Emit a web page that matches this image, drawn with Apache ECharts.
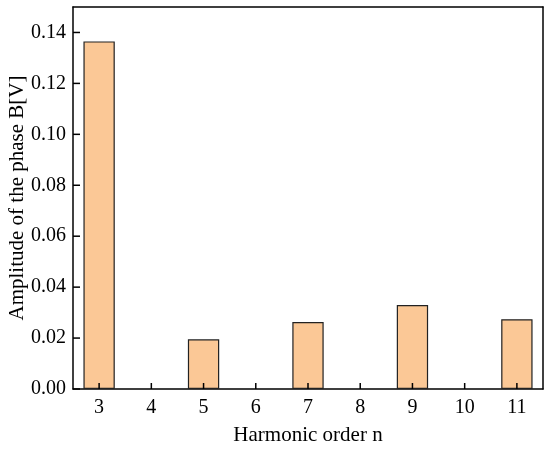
<!DOCTYPE html>
<html>
<head>
<meta charset="utf-8">
<script src="https://cdn.jsdelivr.net/npm/echarts@6/dist/echarts.min.js"></script>
<style>
  html, body { margin: 0; padding: 0; background: #fff; }
  #main { width: 550px; height: 453px; }
</style>
</head>
<body>
<div id="main"></div>
<script>
// harmonic orders and amplitudes of phase B
const orders = ['3', '4', '5', '6', '7', '8', '9', '10', '11'];
const amplitudes = [0.1365, 0, 0.0195, 0, 0.0263, 0, 0.0330, 0, 0.0274];
const yTicks = [0, 0.02, 0.04, 0.06, 0.08, 0.10, 0.12, 0.14];

const font = 'Liberation Serif';
const lineStyle = { color: '#000', width: 1.5 };

let options = {
    animation: false,
    grid: {
        left: 73, right: 7, top: 7, bottom: 64,
        outerBoundsMode: 'none',
        containLabel: false
    },
    xAxis: [{
        type: 'category',
        data: orders,
        name: 'Harmonic order n',
        nameLocation: 'middle',
        nameGap: 36,
        nameTextStyle: { fontFamily: font, fontSize: 21, color: '#000' },
        axisLine: { lineStyle: lineStyle },
        axisTick: { show: false },
        axisLabel: { fontFamily: font, fontSize: 20, color: '#000', margin: 9 },
        splitLine: { show: false }
    }, {
        // top frame edge
        type: 'category',
        data: orders,
        position: 'top',
        axisLine: { show: true, onZero: false, lineStyle: lineStyle },
        axisTick: { show: false },
        axisLabel: { show: false },
        splitLine: { show: false }
    }],
    yAxis: [{
        type: 'value',
        min: 0,
        max: 0.15,
        interval: 0.02,
        name: 'Amplitude of the phase B[V]',
        nameLocation: 'middle',
        nameGap: 45,
        nameMoveOverlap: false,
        nameTextStyle: { fontFamily: font, fontSize: 21, color: '#000' },
        axisLine: { show: true, lineStyle: lineStyle },
        axisTick: { show: false },
        axisLabel: {
            fontFamily: font, fontSize: 20, color: '#000', margin: 7,
            showMaxLabel: false,
            formatter: function (v) {
                return yTicks.some((t) => Math.abs(t - v) < 1e-9) ? v.toFixed(2) : '';
            }
        },
        splitLine: { show: false }
    }, {
        // right frame edge
        type: 'value',
        min: 0,
        max: 0.15,
        interval: 0.02,
        position: 'right',
        axisLine: { show: true, onZero: false, lineStyle: lineStyle },
        axisTick: { show: false },
        axisLabel: { show: false },
        splitLine: { show: false }
    }],
    series: [{
        type: 'bar',
        data: amplitudes.map((v) => (v === 0 ? '-' : v)),
        barWidth: '60%',
        itemStyle: {
            color: '#FBC896',
            borderColor: '#222',
            borderWidth: 1.2
        }
    }]
};

let myChart = echarts.init(document.getElementById('main'));
myChart.setOption(options);

// inward ticks, placed through the axes' own scales
const x0 = myChart.convertToPixel({ gridIndex: 0 }, [0, 0])[0] - 26.1;
const y0 = myChart.convertToPixel({ yAxisIndex: 0 }, 0);
const leftX = myChart.getModel().getComponent('grid').coordinateSystem.getRect().x;
const ticks = [];
yTicks.forEach((t) => {
    const y = myChart.convertToPixel({ yAxisIndex: 0 }, t);
    ticks.push({ type: 'line', shape: { x1: leftX, y1: y, x2: leftX + 7, y2: y }, style: { stroke: '#000', lineWidth: 1.5 }, z: 100 });
});
orders.forEach((c) => {
    const x = myChart.convertToPixel({ xAxisIndex: 0 }, c);
    ticks.push({ type: 'line', shape: { x1: x, y1: y0, x2: x, y2: y0 - 6 }, style: { stroke: '#000', lineWidth: 1.5 }, z: 100 });
});
myChart.setOption({ graphic: ticks });
</script>
</body>
</html>
